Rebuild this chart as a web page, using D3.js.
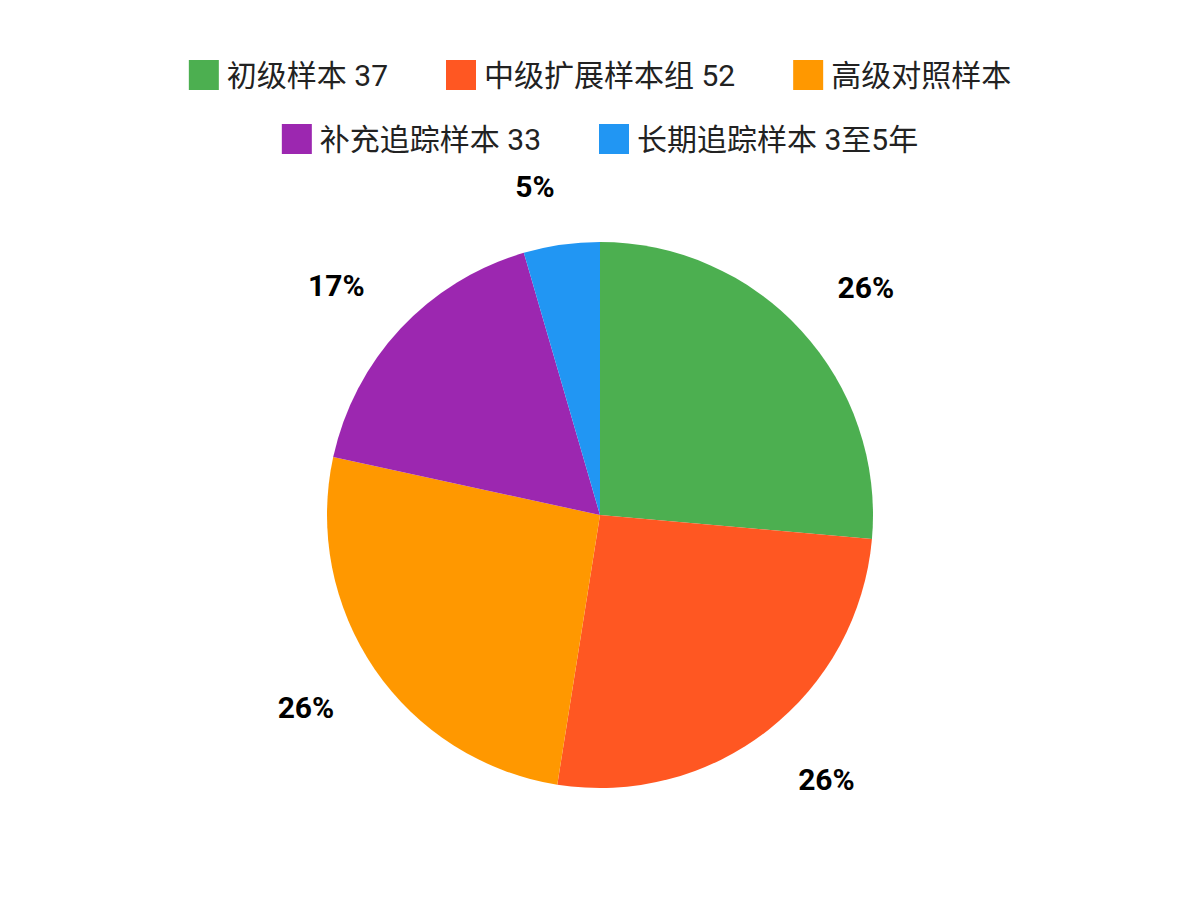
<!DOCTYPE html>
<html>
<head>
<meta charset="utf-8">
<script src="https://cdn.jsdelivr.net/npm/d3@7"></script>
<style>
  body { margin: 0; background: #fff; }
  svg text { font-family: Roboto, "Noto Sans CJK SC", sans-serif; }
</style>
</head>
<body>
<svg class="chart" width="1200" height="900"></svg>
<script>
// legend labels (row split as in the picture)
var categories = ["初级样本 37", "中级扩展样本组 52", "高级对照样本", "补充追踪样本 33", "长期追踪样本 3至5年"];
var shares = [26.4, 26.1, 25.9, 17.1, 4.5];
var colors = ["#4CAF50", "#FF5722", "#FF9800", "#9C27B0", "#2196F3"];
var legendRows = [[0, 1, 2], [3, 4]];

var svg = d3.select("svg.chart"),
  width = 1200,
  cx = 600, cy = 515,
  radius = 273;

var data = categories.map(function(c, i) {
  return {name: c, value: shares[i], color: colors[i]};
});

var pie = d3.pie().sort(null).value(function(d) { return d.value; });
var arc = d3.arc().innerRadius(0).outerRadius(radius);
var labelArc = d3.arc().innerRadius(322).outerRadius(322);
var total = d3.sum(shares);

var g = svg.append("g").attr("transform", "translate(" + cx + "," + cy + ")");

g.selectAll("path.slice")
  .data(pie(data))
  .enter().append("path")
  .attr("class", "slice")
  .attr("d", arc)
  .attr("fill", function(d) { return d.data.color; });

var pct = g.selectAll("text.pct")
  .data(pie(data))
  .enter().append("text")
  .attr("class", "pct")
  .attr("text-anchor", "middle")
  .attr("dy", "0.36em")
  .style("font-size", "30px")
  .style("font-weight", "bold")
  .attr("fill", "#000")
  .text(function(d) { return Math.round(d.data.value / total * 100) + "%"; });

// anchor point on the ring, then push the text box outward
pct.attr("transform", function(d) {
  var c = labelArc.centroid(d),
    a = (d.startAngle + d.endAngle) / 2,
    w = this.getComputedTextLength();
  var x = c[0] + (Math.sin(a) >= 0 ? 1 : -1) * w / 2,
    y = c[1] + (Math.cos(a) >= 0 ? -1 : 1) * 10;
  return "translate(" + x + "," + y + ")";
});

//Legend, each row centred on the chart
var box = 30, pad = 8, spacing = 58;
var rowY = [75, 139];

legendRows.forEach(function(row, r) {
  var lg = svg.append("g");
  var items = lg.selectAll("g.item")
    .data(row.map(function(i) { return data[i]; }))
    .enter().append("g").attr("class", "item");

  items.append("rect")
    .attr("width", box).attr("height", box)
    .attr("y", -box / 2)
    .attr("fill", function(d) { return d.color; });

  items.append("text")
    .attr("x", box + pad)
    .attr("dy", "0.36em")
    .style("font-size", "30px")
    .attr("fill", "#222")
    .text(function(d) { return d.name; });

  // place items one after another
  var x = 0;
  items.each(function() {
    var w = box + pad + d3.select(this).select("text").node().getComputedTextLength();
    d3.select(this).attr("transform", "translate(" + x + ",0)");
    x += w + spacing;
  });
  var rowWidth = x - spacing;
  lg.attr("transform", "translate(" + (width - rowWidth) / 2 + "," + rowY[r] + ")");
});
</script>
</body>
</html>
